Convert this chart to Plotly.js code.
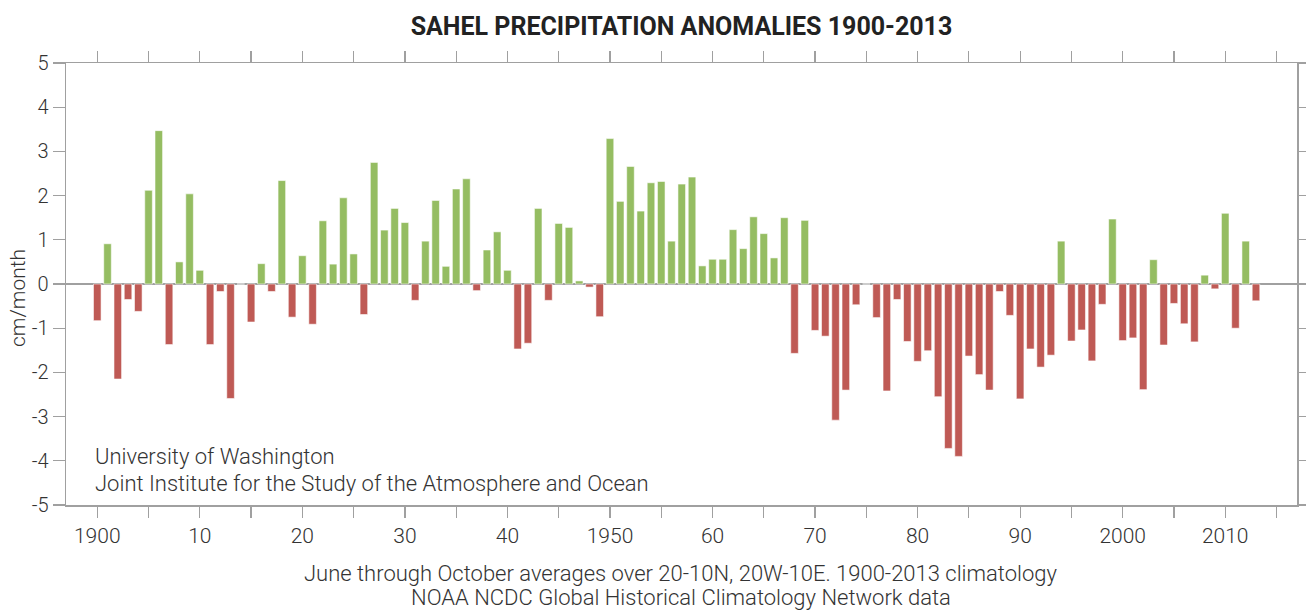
<!DOCTYPE html>
<html>
<head>
<meta charset="utf-8">
<script src="https://cdn.plot.ly/plotly-3.0.1.min.js"></script>
<style>
html,body{margin:0;padding:0;background:#fff;}
#chart{width:1306px;height:610px;}
</style>
</head>
<body>
<div id="chart"></div>
<script>
const years = [1900,1901,1902,1903,1904,1905,1906,1907,1908,1909,
1910,1911,1912,1913,1914,1915,1916,1917,1918,1919,
1920,1921,1922,1923,1924,1925,1926,1927,1928,1929,
1930,1931,1932,1933,1934,1935,1936,1937,1938,1939,
1940,1941,1942,1943,1944,1945,1946,1947,1948,1949,
1950,1951,1952,1953,1954,1955,1956,1957,1958,1959,
1960,1961,1962,1963,1964,1965,1966,1967,1968,1969,
1970,1971,1972,1973,1974,1975,1976,1977,1978,1979,
1980,1981,1982,1983,1984,1985,1986,1987,1988,1989,
1990,1991,1992,1993,1994,1995,1996,1997,1998,1999,
2000,2001,2002,2003,2004,2005,2006,2007,2008,2009,
2010,2011,2012,2013];

const anomalies = [-0.83,0.91,-2.15,-0.35,-0.62,2.12,3.47,-1.37,0.50,2.04,
0.31,-1.37,-0.17,-2.59,0.00,-0.86,0.46,-0.17,2.34,-0.75,
0.64,-0.91,1.43,0.45,1.95,0.68,-0.69,2.75,1.22,1.71,
1.39,-0.37,0.97,1.89,0.40,2.15,2.38,-0.15,0.77,1.18,
0.31,-1.47,-1.34,1.71,-0.37,1.37,1.28,0.07,-0.07,-0.74,
3.29,1.87,2.66,1.65,2.29,2.32,0.97,2.26,2.42,0.41,
0.56,0.56,1.23,0.80,1.52,1.14,0.59,1.50,-1.57,1.44,
-1.05,-1.18,-3.08,-2.40,-0.47,0.00,-0.76,-2.42,-0.35,-1.30,
-1.75,-1.51,-2.55,-3.72,-3.90,-1.63,-2.05,-2.40,-0.17,-0.71,
-2.60,-1.47,-1.88,-1.61,0.97,-1.29,-1.04,-1.74,-0.46,1.47,
-1.28,-1.22,-2.39,0.55,-1.38,-0.44,-0.90,-1.31,0.20,-0.11,
1.60,-1.00,0.97,-0.38];

const xTickVals = [1900,1905,1910,1915,1920,1925,1930,1935,1940,1945,1950,1955,1960,1965,1970,1975,1980,1985,1990,1995,2000,2005,2010,2015];
const xTickText = ["1900","","10","","20","","30","","40","","1950","","60","","70","","80","","90","","2000","","2010",""];
const yTickVals = [5,4,3,2,1,0,-1,-2,-3,-4,-5];
const yTickText = ["5","4","3","2","1","0","-1","-2","-3","-4","-5"];

const titleText = "SAHEL PRECIPITATION ANOMALIES 1900-2013";
const yTitle = "cm/month";
const noteLines = ["University of Washington","Joint Institute for the Study of the Atmosphere and Ocean"];
const footLines = ["June through October averages over 20-10N, 20W-10E. 1900-2013 climatology","NOAA NCDC Global Historical Climatology Network data"];

const GREEN = "#95bd62";
const RED = "#bf5a55";
const AX = "#a0a0a0";
const TXT = "#333333";
const FONT = "Roboto, 'Open Sans', sans-serif";

const colors = anomalies.map(v => v >= 0 ? GREEN : RED);

const trace = {
  type: "bar",
  x: years,
  y: anomalies,
  width: 0.74,
  marker: {color: colors, line: {color: "rgba(255,255,255,0.7)", width: 0.8}},
  hoverinfo: "x+y"
};

const W = 1306, H = 610;
const m = {l: 66, r: 9, t: 63, b: 105};
const ph = H - m.t - m.b;
const pw = W - m.l - m.r;
function py(p){ return (H - m.b - p) / ph; }
function px(p){ return (p - m.l) / pw; }

const layout = {
  width: W, height: H,
  margin: m,
  paper_bgcolor: "#fff",
  plot_bgcolor: "#fff",
  showlegend: false,
  bargap: 0,
  font: {family: FONT, color: TXT, size: 17, weight: 300},
  title: {
    text: titleText,
    x: 0.5, xanchor: "center", xref: "paper",
    y: 1 - 26/H, yanchor: "middle",
    font: {family: FONT, size: 25, color: "#222", weight: 700}
  },
  xaxis: {
    range: [1896.95, 2017.0],
    tickmode: "array",
    tickvals: xTickVals,
    ticktext: xTickText,
    ticks: "outside",
    ticklen: 11,
    tickwidth: 1.2,
    tickcolor: AX,
    showline: true,
    linecolor: AX,
    linewidth: 1.5,
    mirror: "ticks",
    showgrid: false,
    zeroline: false,
    tickfont: {family: FONT, size: 21, color: TXT, weight: 300},
    fixedrange: true
  },
  yaxis: {
    range: [-5, 5],
    tickmode: "array",
    tickvals: yTickVals,
    ticktext: yTickText,
    ticks: "outside",
    ticklen: 12,
    tickwidth: 1.2,
    tickcolor: AX,
    showline: true,
    linecolor: AX,
    linewidth: 1.5,
    mirror: "ticks",
    showgrid: false,
    zeroline: true,
    zerolinecolor: AX,
    zerolinewidth: 1.5,
    tickfont: {family: FONT, size: 20, color: TXT, weight: 300},
    fixedrange: true
  },
  annotations: [
    {text: yTitle, xref: "paper", yref: "paper", x: px(18), y: py(298), xanchor: "center", yanchor: "middle", textangle: -90, showarrow: false, font: {family: FONT, size: 21, color: TXT, weight: 300}},
    {text: noteLines[0], xref: "paper", yref: "paper", x: px(93), y: py(456), xanchor: "left", yanchor: "middle", showarrow: false, font: {family: FONT, size: 22, color: TXT, weight: 300}},
    {text: noteLines[1], xref: "paper", yref: "paper", x: px(93), y: py(483), xanchor: "left", yanchor: "middle", showarrow: false, font: {family: FONT, size: 22, color: TXT, weight: 300}},
    {text: footLines[0], xref: "paper", yref: "paper", x: px(681), y: py(573), xanchor: "center", yanchor: "middle", showarrow: false, font: {family: FONT, size: 22, color: TXT, weight: 300}},
    {text: footLines[1], xref: "paper", yref: "paper", x: px(681), y: py(597), xanchor: "center", yanchor: "middle", showarrow: false, font: {family: FONT, size: 22, color: TXT, weight: 300}}
  ]
};

Plotly.newPlot("chart", [trace], layout, {displayModeBar: false, staticPlot: true});
</script>
</body>
</html>
